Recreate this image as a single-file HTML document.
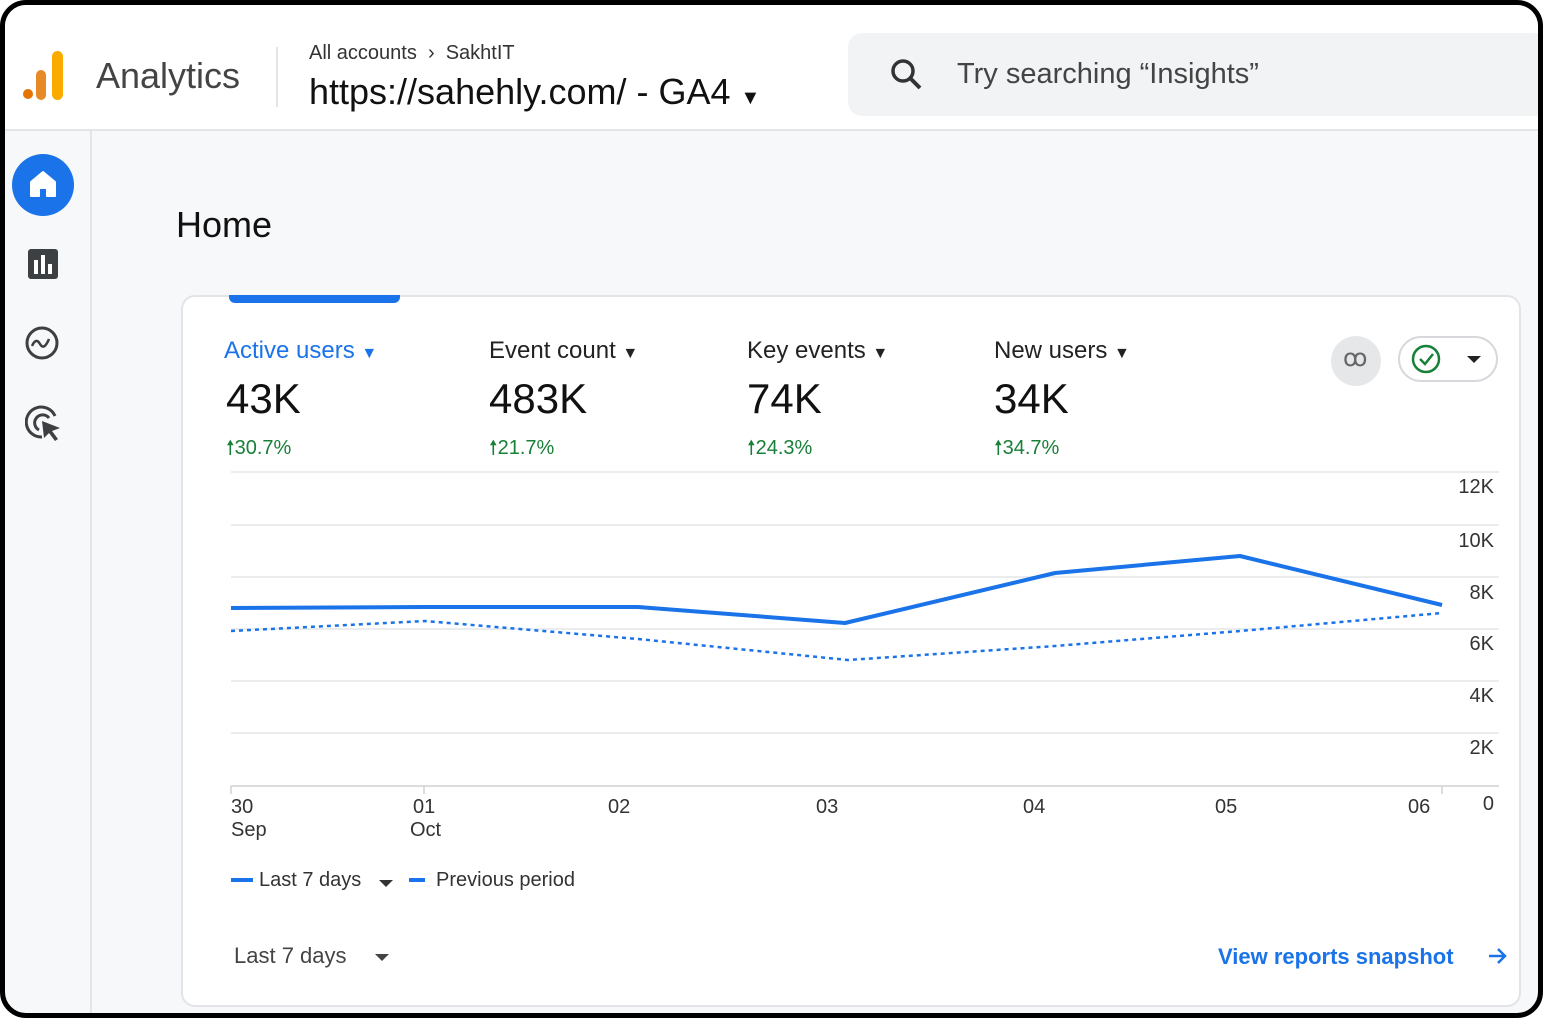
<!DOCTYPE html>
<html><head><meta charset="utf-8"><style>
*{margin:0;padding:0;box-sizing:border-box}
body{width:1543px;height:1018px;background:#fff;font-family:"Liberation Sans",sans-serif;overflow:hidden;position:relative}
.frame{position:absolute;left:0;top:0;width:1543px;height:1018px;border:5px solid #000;border-radius:26px;background:#f7f8f9;overflow:hidden}
.hdr{position:absolute;left:0;top:0;width:1543px;height:126px;background:#fff;border-bottom:2px solid #e3e5e8}
.t{position:absolute;white-space:nowrap}
.side{position:absolute;left:85px;top:126px;width:2px;height:900px;background:#e3e5e8}
.card{position:absolute;left:176px;top:290px;width:1340px;height:712px;background:#fff;border:2px solid #e2e4e7;border-radius:14px}
</style></head><body>
<div class="frame">
<div class="hdr">
 <svg style="position:absolute;left:14px;top:42px" width="52" height="58"><circle cx="9" cy="47" r="5" fill="#e37400"/><rect x="17" y="23" width="10" height="30" rx="5" fill="#e37400" opacity=".85"/><rect x="33" y="4" width="11" height="49" rx="5.5" fill="#f9ab00"/></svg>
 <div class="t" style="left:91px;top:50px;font-size:36px;color:#444">Analytics</div>
 <div style="position:absolute;left:271px;top:42px;width:2px;height:60px;background:#e3e5e8"></div>
 <div class="t" style="left:304px;top:37px;font-size:20px;color:#333">All accounts &nbsp;›&nbsp; SakhtIT</div>
 <div class="t" style="left:304px;top:66px;font-size:36px;color:#111">https://sahehly.com/ - GA4 <span style="font-size:20px">▼</span></div>
 <div style="position:absolute;left:843px;top:28px;width:700px;height:83px;background:#f1f3f4;border-radius:14px"></div>
 <svg style="position:absolute;left:884px;top:52px" width="36" height="36"><circle cx="14" cy="14" r="10" fill="none" stroke="#333" stroke-width="3.5"/><line x1="21" y1="21" x2="31" y2="31" stroke="#333" stroke-width="4"/></svg>
 <div class="t" style="left:952px;top:53px;font-size:29px;color:#444">Try searching “Insights”</div>
</div>
<div class="side"></div>
<div style="position:absolute;left:7px;top:149px;width:62px;height:62px;border-radius:50%;background:#1a73e8"></div>
<svg style="position:absolute;left:22px;top:163px" width="32" height="32"><path d="M4 14 L16 4 L28 14 L28 28 L20 28 L20 20 L12 20 L12 28 L4 28 Z" fill="#fff" stroke="#fff" stroke-width="2" stroke-linejoin="round"/></svg>
<svg style="position:absolute;left:22px;top:243px" width="32" height="32"><rect x="1" y="1" width="30" height="30" rx="3" fill="#3c4043"/><rect x="7" y="12" width="4" height="14" fill="#fff"/><rect x="14" y="7" width="4" height="19" fill="#fff"/><rect x="21" y="16" width="4" height="10" fill="#fff"/></svg>
<svg style="position:absolute;left:20px;top:320px" width="38" height="38"><circle cx="17" cy="18" r="15" fill="none" stroke="#3c4043" stroke-width="3"/><path d="M7 21 Q11 12 15 19 Q19 26 24 14" fill="none" stroke="#3c4043" stroke-width="2.5"/></svg>
<svg style="position:absolute;left:20px;top:399px" width="40" height="40"><path d="M30 12 A15 15 0 1 0 17 33" fill="none" stroke="#3c4043" stroke-width="3"/><path d="M24 14 A8 8 0 1 0 14 26" fill="none" stroke="#3c4043" stroke-width="3"/><path d="M17 17 L35 24 L27 27 L33 35 L30 37 L24 29 L19 34 Z" fill="#3c4043"/></svg>
<div class="t" style="left:171px;top:199px;font-size:36px;color:#111">Home</div>
<div class="card"></div>
<div style="position:absolute;left:224px;top:290px;width:171px;height:8px;background:#1a73e8;border-radius:0 0 6px 6px"></div>
<div class="t" style="left:219px;top:332px;font-size:24px;color:#1a73e8">Active users <span style="font-size:16px">▼</span></div>
<div class="t" style="left:484px;top:332px;font-size:24px;color:#222">Event count <span style="font-size:16px">▼</span></div>
<div class="t" style="left:742px;top:332px;font-size:24px;color:#222">Key events <span style="font-size:16px">▼</span></div>
<div class="t" style="left:989px;top:332px;font-size:24px;color:#222">New users <span style="font-size:16px">▼</span></div>
<div class="t" style="left:221px;top:370px;font-size:42px;color:#111">43K</div>
<div class="t" style="left:484px;top:370px;font-size:42px;color:#111">483K</div>
<div class="t" style="left:742px;top:370px;font-size:42px;color:#111">74K</div>
<div class="t" style="left:989px;top:370px;font-size:42px;color:#111">34K</div>
<div class="t" style="left:221px;top:428px;font-size:20px;color:#188038">🠕30.7%</div>
<div class="t" style="left:484px;top:428px;font-size:20px;color:#188038">🠕21.7%</div>
<div class="t" style="left:742px;top:428px;font-size:20px;color:#188038">🠕24.3%</div>
<div class="t" style="left:989px;top:428px;font-size:20px;color:#188038">🠕34.7%</div>
<div style="position:absolute;left:1326px;top:331px;width:50px;height:50px;border-radius:50%;background:#e6e7e9"></div>
<div class="t" style="left:1338px;top:339px;font-size:24px;color:#666">ꝏ</div>
<div style="position:absolute;left:1393px;top:331px;width:100px;height:46px;border:2px solid #d6d8db;border-radius:24px"></div>
<svg style="position:absolute;left:1406px;top:339px" width="80" height="32"><circle cx="15" cy="15" r="13" fill="none" stroke="#188038" stroke-width="2.5"/><path d="M9 15 L14 20 L22 10" fill="none" stroke="#188038" stroke-width="2.5"/><path d="M56 12 L70 12 L63 19 Z" fill="#222"/></svg>
<svg style="position:absolute;left:0;top:0" width="1543" height="1018">
 <g stroke="#e4e6e8" stroke-width="1.5">
  <line x1="226" y1="467" x2="1494" y2="467"/>
  <line x1="226" y1="520" x2="1494" y2="520"/>
  <line x1="226" y1="572" x2="1494" y2="572"/>
  <line x1="226" y1="624" x2="1494" y2="624"/>
  <line x1="226" y1="676" x2="1494" y2="676"/>
  <line x1="226" y1="728" x2="1494" y2="728"/>
  <line x1="226" y1="781" x2="1494" y2="781" stroke="#cfd1d4"/>
  <line x1="226" y1="781" x2="226" y2="789" stroke="#cfd1d4"/>
  <line x1="419" y1="781" x2="419" y2="789" stroke="#cfd1d4"/>
  <line x1="1437" y1="781" x2="1437" y2="789" stroke="#cfd1d4"/>
 </g>
 <polyline points="226,603 420,602 633,602 840,618 1050,568 1235,551 1437,600" fill="none" stroke="#1a73e8" stroke-width="4" stroke-linejoin="round"/>
 <polyline points="226,626 420,616 633,634 843,655 1050,641 1235,626 1437,608" fill="none" stroke="#1a73e8" stroke-width="2.5" stroke-dasharray="4,4"/>
 <g font-family="Liberation Sans" font-size="20" fill="#333" text-anchor="end">
  <text x="1489" y="488">12K</text><text x="1489" y="542">10K</text><text x="1489" y="594">8K</text><text x="1489" y="645">6K</text><text x="1489" y="697">4K</text><text x="1489" y="749">2K</text><text x="1489" y="805">0</text>
 </g>
 <g font-family="Liberation Sans" font-size="20" fill="#333">
  <text x="226" y="808">30</text><text x="226" y="831">Sep</text>
  <text x="408" y="808">01</text><text x="405" y="831">Oct</text>
  <text x="603" y="808">02</text><text x="811" y="808">03</text><text x="1018" y="808">04</text><text x="1210" y="808">05</text><text x="1403" y="808">06</text>
 </g>
 <rect x="226" y="873" width="22" height="4" fill="#1a73e8"/>
 <rect x="404" y="873" width="16" height="4" fill="#1a73e8"/>
 <g font-family="Liberation Sans" font-size="20" fill="#333">
  <text x="254" y="881">Last 7 days</text><text x="431" y="881">Previous period</text>
  <text x="229" y="958" font-size="22" fill="#444">Last 7 days</text>
 </g>
 <path d="M374 875 L388 875 L381 882 Z" fill="#333"/>
 <path d="M370 949 L384 949 L377 956 Z" fill="#444"/>
 <text x="1213" y="959" font-family="Liberation Sans" font-size="22" font-weight="bold" fill="#1a73e8">View reports snapshot</text>
 <path d="M1484 951 L1500 951 M1493 944 L1500 951 L1493 958" stroke="#1a73e8" stroke-width="2.5" fill="none"/>
</svg>
</div>
</body></html>
